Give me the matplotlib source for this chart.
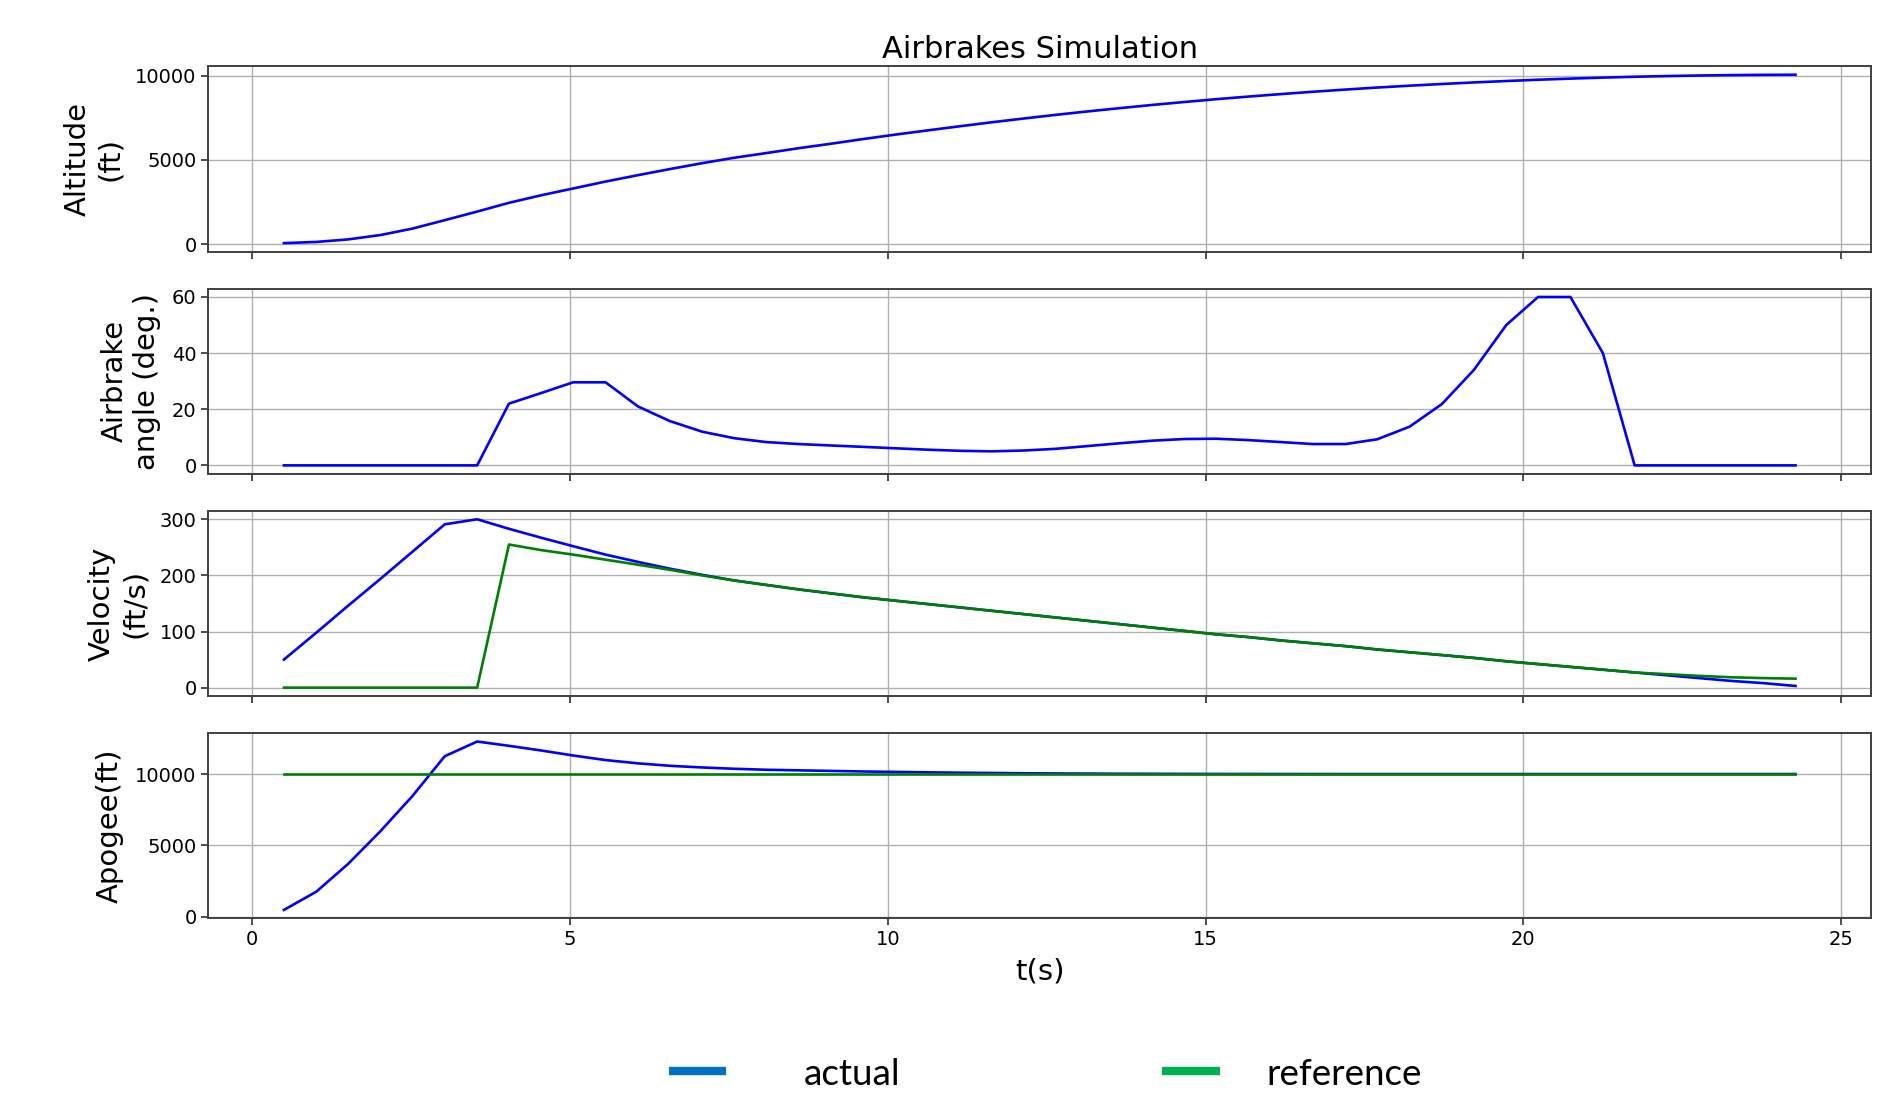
import matplotlib
matplotlib.use("Agg")
import matplotlib.pyplot as plt
from matplotlib.lines import Line2D

# ---- data ----
t = [0.5, 1.01, 1.51, 2.02, 2.52, 3.03, 3.54, 4.04, 4.55, 5.05, 5.56, 6.07, 6.57, 7.08,
     7.58, 8.09, 8.60, 9.10, 9.61, 10.11, 10.62, 11.13, 11.63, 12.14, 12.64, 13.15, 13.66,
     14.16, 14.67, 15.17, 15.68, 16.19, 16.69, 17.20, 17.70, 18.21, 18.72, 19.22, 19.73,
     20.23, 20.74, 21.25, 21.75, 22.26, 22.76, 23.27, 23.78, 24.28]

altitude = [70, 140, 290, 550, 930, 1430, 1940, 2460, 2910, 3310, 3720, 4100, 4460, 4810,
            5130, 5410, 5700, 5960, 6240, 6500, 6752, 6998, 7234, 7460, 7676, 7882, 8078,
            8264, 8440, 8606, 8762, 8909, 9047, 9176, 9296, 9406, 9507, 9599, 9683,
            9759, 9826, 9885, 9936, 9977, 10009, 10033, 10049, 10056]

airbrake_angle = [0, 0, 0, 0, 0, 0, 0, 22, 25.8, 29.6, 29.6, 21, 15.8, 12,
                  9.7, 8.3, 7.6, 7.1, 6.6, 6.1, 5.6, 5.2, 5.0, 5.3, 5.9, 6.9, 7.9,
                  8.8, 9.4, 9.5, 9.0, 8.3, 7.6, 7.6, 9.3, 13.8, 21.9, 34, 50,
                  60, 60, 40, 0, 0, 0, 0, 0, 0]

velocity_actual = [50, 98, 146, 194, 242, 291, 300, 283, 267, 252, 237, 224, 212, 201,
                   191, 183, 175, 168, 161, 155, 149, 143, 137, 131, 125, 119, 113,
                   107, 101, 95, 90, 84, 79, 74, 68, 63, 58, 53, 47,
                   42, 37, 32, 27, 22, 17, 12, 8, 3]

velocity_reference = [0, 0, 0, 0, 0, 0, 0, 255, 245, 237, 228, 219, 210, 200,
                      191, 183, 175, 168, 161, 155, 149, 143, 137, 131, 125, 119, 113,
                      107, 101, 95, 90, 84, 79, 74, 68, 63, 58, 53, 47,
                      42, 37, 32, 27, 24, 21, 18.5, 17, 16]

apogee_actual = [470, 1750, 3700, 6000, 8450, 11250, 12280, 11980, 11650, 11300, 10980,
                 10750, 10580, 10460, 10370, 10300, 10260, 10220, 10180, 10150, 10120,
                 10095, 10075, 10055, 10040, 10030, 10020, 10015, 10010, 10005, 10003,
                 10002, 10001, 10000, 10000, 10000, 10000, 10000, 10000, 10000, 10000,
                 10000, 10000, 10000, 10000, 10000, 10000, 10000]

apogee_reference = [10000] * 48

ylabels = ["Altitude\n(ft)", "Airbrake\nangle (deg.)", "Velocity\n(ft/s)", "Apogee(ft)"]
yticks = [[0, 5000, 10000], [0, 20, 40, 60], [0, 100, 200, 300], [0, 5000, 10000]]
xticks = [0, 5, 10, 15, 20, 25]
legend_labels = ["actual", "reference"]
legend_colors = ['#0070C0', '#00B050']

# ---- figure ----
plt.rcParams['font.family'] = ['DejaVu Sans']
fig, axes = plt.subplots(4, 1, figsize=(18.89, 10.96), dpi=100, sharex=True)
fig.subplots_adjust(left=0.1103, right=0.9905, top=0.9395, bottom=0.1621, hspace=0.2)

spine_col = '#404040'
lw = 1.9

axes[0].plot(t, altitude, color='b', lw=lw)
axes[1].plot(t, airbrake_angle, color='b', lw=lw)
axes[2].plot(t, velocity_actual, color='b', lw=lw)
axes[2].plot(t, velocity_reference, color='g', lw=lw)
axes[3].plot(t, apogee_actual, color='b', lw=lw)
axes[3].plot(t, apogee_reference, color='g', lw=lw)

for ax, lab, yt in zip(axes, ylabels, yticks):
    ax.set_yticks(yt)
    ax.set_ylabel(lab, fontsize=21, labelpad=8)
    ax.grid(True, color='#b0b0b0', lw=1.0)
    ax.tick_params(labelsize=14, color=spine_col, width=1.3, length=5)
    for s in ax.spines.values():
        s.set_color(spine_col)
        s.set_linewidth(1.4)

axes[3].set_xticks(xticks)
axes[3].set_xlabel("t(s)", fontsize=21, labelpad=6)
axes[0].set_title("Airbrakes Simulation", fontsize=22, pad=6)

# ---- legend below the plots (figure coordinates) ----
W, H = 1889.0, 1096.0
bar_y = 1 - 1070.8 / H
text_base = 1 - 1085.0 / H
bar_x = [(669, 726), (1162, 1220)]
text_x = [804, 1266]
for (x0, x1), tx, lab, col in zip(bar_x, text_x, legend_labels, legend_colors):
    fig.add_artist(Line2D([x0 / W, x1 / W], [bar_y, bar_y], transform=fig.transFigure,
                          color=col, lw=6, solid_capstyle='butt'))
    fig.text(tx / W, text_base, lab, family='Lato', fontsize=26.5,
             ha='left', va='baseline')

fig.savefig("out.png", dpi=100)
